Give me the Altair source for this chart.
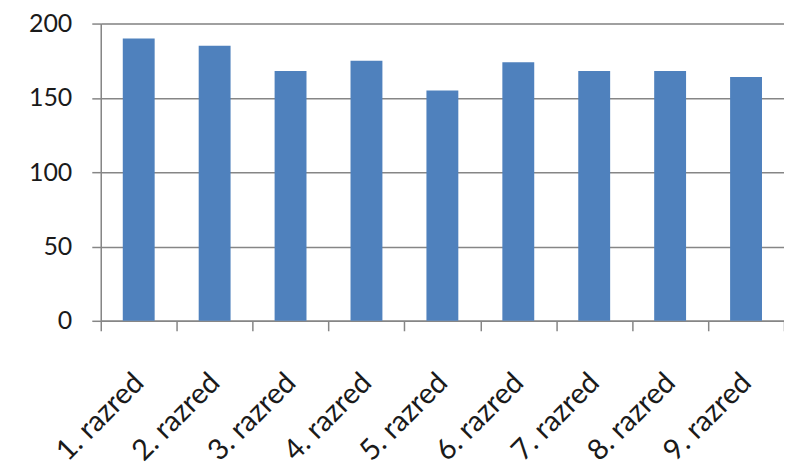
import altair as alt
import pandas as pd

categories = ["1. razred", "2. razred", "3. razred", "4. razred", "5. razred",
              "6. razred", "7. razred", "8. razred", "9. razred"]
values = [190, 185, 168, 175, 155, 174, 168, 168, 164]
y_ticks = [0, 50, 100, 150, 200]

df = pd.DataFrame({"razred": categories, "v": values})

font = "Lato"
gray = "#868686"

chart = alt.Chart(df).mark_bar(color="#4F81BD", width=alt.RelativeBandSize(0.42)).encode(
    x=alt.X("razred:N", sort=categories,
            scale=alt.Scale(paddingInner=0, paddingOuter=0),
            axis=alt.Axis(title=None, labelAngle=-45, labelAlign="right",
                          labelBaseline="middle",
                          labelFont=font, labelFontSize=29, labelColor="#1a1a1a",
                          labelPadding=47, tickBand="extent", tickSize=10,
                          tickColor=gray, tickWidth=1.5, domainColor=gray,
                          domainWidth=1.5, grid=False)),
    y=alt.Y("v:Q", scale=alt.Scale(domain=[0, 200], nice=False),
            axis=alt.Axis(title=None, values=y_ticks, labelFont=font,
                          labelFontSize=25, labelColor="#1a1a1a",
                          labelPadding=20, tickSize=9, tickColor=gray,
                          tickWidth=1.5, domainColor=gray, domainWidth=1.5,
                          gridColor=gray, gridWidth=1.5)),
).properties(
    width=685, height=298,
    autosize=alt.AutoSizeParams(type="none"),
    padding={"left": 93, "top": 15, "right": 0, "bottom": 155},
).configure_view(stroke=None).configure(background="white")

chart.save("out.html", embed_options={"renderer": "svg", "actions": False})
